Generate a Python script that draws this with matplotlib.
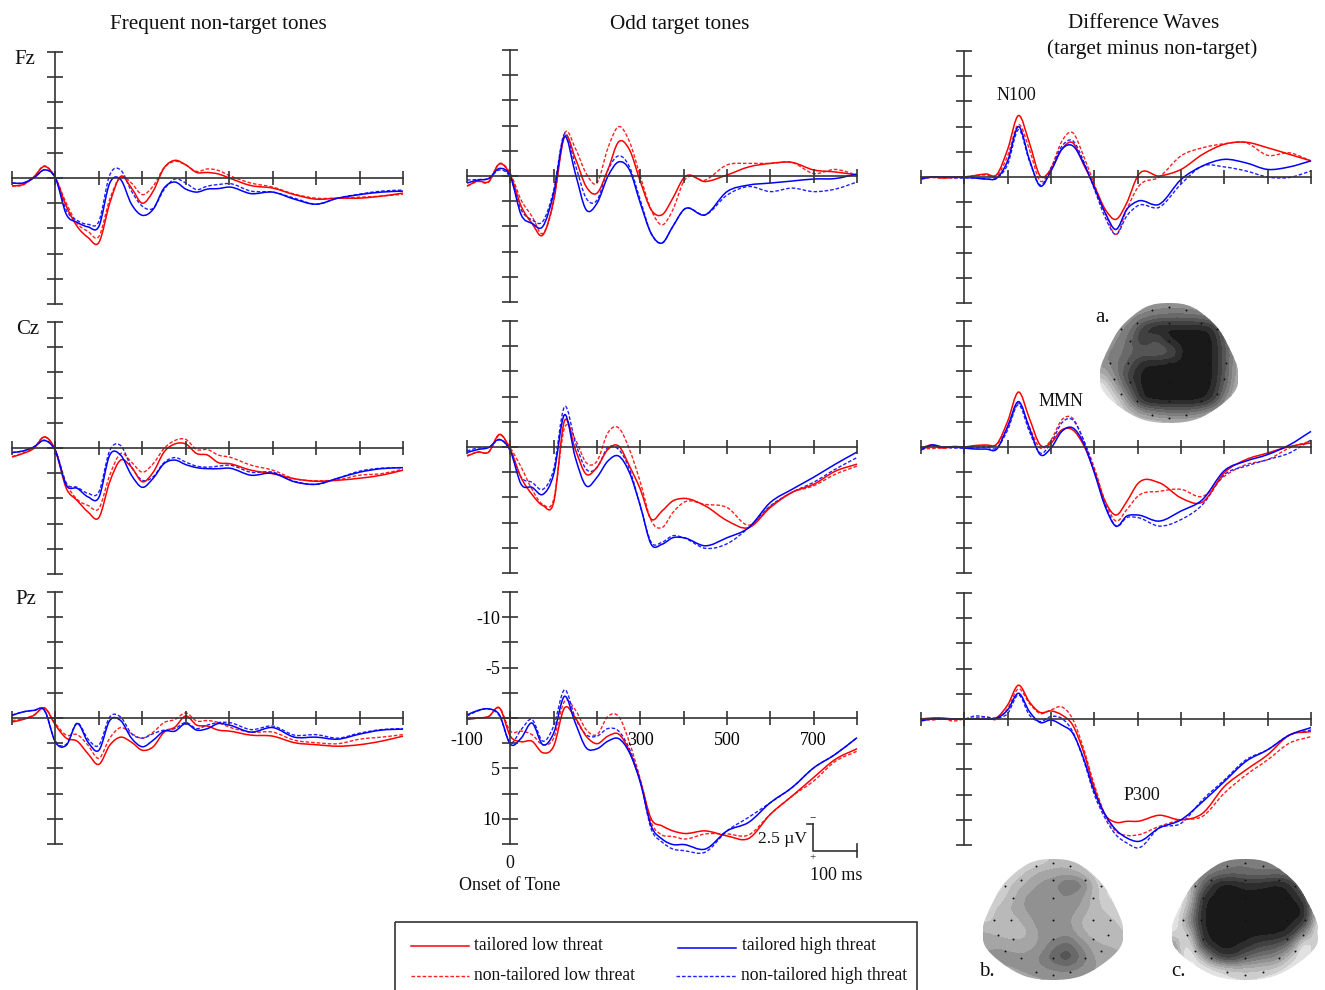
import numpy as np
import matplotlib
matplotlib.use("Agg")
import matplotlib.pyplot as plt
from matplotlib.path import Path
from matplotlib.patches import PathPatch, Rectangle

W, H = 1325, 990
plt.rcParams['font.family'] = ['Liberation Serif', 'DejaVu Serif']

times = [-100, -75, -50, -25, 0, 25, 50, 75, 100, 125, 150, 175, 200, 225, 250, 275, 300, 325, 350,
         375, 400, 450, 500, 550, 600, 650, 700, 750, 800]

# amplitudes in microvolts, negative is up
fz_freq_tl = [.8, .65, -.1, -1.15, 0, 2.8, 4.8, 5.9, 6.4, 2.5, -.15, 1, 2.5, 1.3, -1, -1.75, -1.3, -.55, -.55, -.4, 0, .75, 1, 1.65, 2.1, 2, 2, 1.8, 1.5]
fz_freq_nl = [.8, .7, -.1, -1.2, 0, 2.5, 4.5, 5.3, 5.8, 2.1, -.1, .5, 1.65, .8, -1, -1.65, -1.3, -.65, -.9, -.75, -.25, .5, .9, 1.6, 2, 2, 1.9, 1.8, 1.6]
fz_freq_th = [.5, .5, 0, -.8, 0, 3.6, 4.4, 4.85, 4.8, .5, .15, 2.6, 3.7, 3.1, 1, .4, 1.1, 1.4, 1.1, 1.05, .9, 1.55, 1.4, 2.1, 2.6, 2, 1.65, 1.4, 1.3]
fz_freq_nh = [.5, .5, 0, -.8, 0, 3.2, 4.2, 4.6, 4.3, -.3, -.8, 1.3, 2.8, 3, 1.15, .1, .5, 1.15, .8, .65, .55, 1.3, 1.4, 2, 2.6, 2, 1.6, 1.3, 1.2]

fz_odd_tl = [1, .5, .55, -1.2, -.1, 3, 4.7, 5.85, 2.4, -3.9, -1.75, 1.05, 1.7, -.6, -3.4, -2.6, .55, 3.35, 3.85, 2.2, .2, .55, -.1, -.9, -1.25, -1.35, -.6, -.4, -.1]
fz_odd_nl = [1, .55, .6, -1.25, -.25, 2.4, 4, 5.7, 2.55, -4.2, -2.75, -.25, .7, -2.75, -4.9, -3.4, .05, 3.35, 4.85, 3.35, .55, .4, -1.1, -1.25, -1.25, -1.35, -.25, -.65, -.1]
fz_odd_th = [.7, .4, .25, -.75, .05, 3.85, 4.7, 5, 1.7, -3.9, -.25, 3.35, 2.7, .05, -1.4, -.6, 2.7, 5.7, 6.65, 5, 3.35, 3.85, 1.55, .9, .7, .5, .3, .25, -.2]
fz_odd_nh = [.4, .35, .25, -.6, .15, 3.35, 4.35, 4.5, 1.4, -4.2, -1.1, 2.2, 2.4, -.6, -2, -.9, 2.4, 5.7, 6.65, 5, 3.35, 3.85, 1.9, 1.05, 1.55, 1.2, 1.55, 1.3, .6]

fz_diff_tl = [.1, 0, .1, .05, 0, -.15, -.3, -.25, -2.75, -6.1, -3.4, -.1, -.75, -2.75, -3.4, -1.25, .9, 3.2, 4.2, 2.55, -.1, -.1, -.75, -2.25, -3.25, -3.45, -2.9, -2.25, -1.6]
fz_diff_nl = [.1, .05, .1, 0, 0, -.15, -.2, -.1, -2.1, -5.2, -2.75, .4, -.9, -3.55, -4.4, -2.1, .75, 3.55, 5.7, 3.2, 1.05, 0, -2.1, -2.9, -3.3, -3.4, -2.15, -2.4, -1.6]
fz_diff_th = [.2, 0, 0, 0, .05, .1, .2, .1, -1.6, -5, -1.75, .9, -.6, -2.75, -3.1, -1.4, 1.05, 3.55, 5.2, 3.2, 2.4, 2.7, .25, -1.1, -1.75, -1.4, -.75, -1, -1.6]
fz_diff_nh = [.2, 0, 0, .1, .1, .1, .2, .1, -1.25, -4.7, -1.6, .8, -.9, -3.05, -3.6, -1.6, 1.2, 4, 5.7, 3.85, 2.85, 3, .7, -1.1, -1, -.6, 0, .05, -.6]

cz_freq_tl = [.9, .55, .05, -1.1, .25, 4, 5.2, 6.35, 6.9, 3.35, 1.2, 1.9, 3.35, 2.4, .4, -.4, -.4, .55, .7, 1.45, 1.55, 2.2, 2.55, 3.05, 3.3, 3.2, 3, 2.7, 2.2]
cz_freq_nl = [.85, .5, 0, -1.1, .25, 3.5, 5.1, 5.7, 6, 2.7, .55, 1.4, 2.4, 1.55, .05, -.75, -.85, .15, .15, .7, .9, 1.7, 2.2, 3.05, 3.25, 3.15, 2.7, 2.55, 2.1]
cz_freq_th = [.45, .3, -.1, -.75, .3, 3.7, 4, 4.85, 4.9, .7, .7, 2.7, 3.9, 3, 1.55, 1.2, 1.65, 1.95, 2.05, 2.05, 2, 2.7, 2.5, 3.35, 3.6, 3, 2.4, 2.05, 1.95]
cz_freq_nh = [.45, .3, -.1, -.75, .3, 3.5, 3.9, 4.5, 4.35, .25, -.25, 1.9, 3.2, 2.85, 1.45, .95, 1.4, 1.8, 1.9, 1.8, 1.7, 2.4, 2.4, 3.3, 3.6, 3, 2.3, 2, 1.95]

cz_odd_tl = [.9, .5, .5, -1.25, .25, 3.05, 4.7, 5.8, 5.5, -2.6, .25, 2.7, 2, .25, -.1, 1.9, 4.2, 7.15, 6.35, 5.35, 5.1, 5.85, 7.3, 8, 6, 4.5, 3.7, 2.4, 1.7]
cz_odd_nl = [.85, .5, .5, -1.2, .1, 2, 4.2, 5.7, 5.2, -1.9, -.75, 1.55, 1.4, -1.4, -1.9, .25, 3.5, 7.3, 8, 6.5, 5.5, 5.7, 6, 7.75, 5.9, 4.5, 3.85, 2.7, 1.9]
cz_odd_th = [.55, .25, .05, -.75, .4, 3.7, 4, 4.7, 2.7, -3.2, 1.05, 3.85, 3, 1.4, .9, 2.55, 5.85, 9.65, 9.65, 9, 9, 9.8, 9, 8, 5.5, 4.2, 3, 1.7, .5]
cz_odd_nh = [.4, .1, .05, -.7, .3, 3, 3.5, 4.2, 2.2, -4, -.45, 2.2, 2.05, .05, .25, 2.2, 5.85, 9.45, 9.45, 8.8, 9, 10.05, 9.6, 8, 5.85, 4.5, 3.5, 2.2, 1.05]

cz_diff_tl = [.1, -.2, .1, -.05, 0, -.15, -.2, -.3, -2.55, -5.45, -2.85, -.2, -.4, -1.7, -1.7, -.2, 2.4, 5.4, 6.75, 5.4, 3.65, 3.55, 5.05, 5.45, 2.55, 1.25, .6, -.05, -.4]
cz_diff_nl = [.2, .15, .1, .05, 0, -.1, -.1, -.25, -1.9, -4.35, -2, .1, -.7, -2.7, -2.85, -.7, 2.05, 5.4, 7.35, 6.2, 4.9, 4.4, 4.2, 4.9, 2.9, 1.75, 1.25, .1, -.6]
cz_diff_th = [.3, -.2, 0, 0, .1, .2, .2, .2, -2.05, -4.5, -1.9, .75, .1, -1.55, -1.9, -.4, 2.55, 5.9, 7.85, 6.85, 6.75, 7.35, 6.35, 5.2, 2.35, 1.4, .75, -.2, -1.55]
cz_diff_nh = [.1, -.1, 0, .1, .1, .1, 0, .1, -1.7, -4.2, -1.55, .6, -.4, -2.4, -2.7, -.7, 2.4, 5.7, 7.85, 7, 7, 7.85, 7.2, 5.7, 2.75, 1.9, 1.25, .6, -.7]

pz_freq_tl = [.4, .15, -.25, -1, .7, 2, 2.3, 3.55, 4.6, 2.7, 1.9, 2.4, 3.2, 2.85, 1.4, .9, -.2, .7, .8, 1.2, 1.3, 1.7, 1.8, 2.45, 2.65, 2.8, 2.65, 2.3, 1.8]
pz_freq_nl = [.25, .1, -.3, -.95, .55, 1.7, 1.65, 2.7, 4, 2, .95, 1.55, 2, 1.4, .45, .15, -.5, .3, .25, .45, .9, 1.4, 1.4, 2.2, 2.45, 2.55, 2.1, 1.9, 1.65]
pz_freq_th = [-.25, -.6, -.75, -.75, 2.4, 2.7, .55, 2.4, 3.2, .25, .25, 2, 2.85, 2.2, 1.3, 1.3, .55, 1.2, 1.05, .55, .7, 1.4, .95, 1.9, 1.9, 2.1, 1.6, 1.2, 1.1]
pz_freq_nh = [-.3, -.6, -.75, -.7, 2.3, 2.6, .5, 2.1, 2.7, -.1, -.1, 1.55, 2, 1.55, 1.2, 1.05, .45, 1.05, .7, .45, .45, 1.15, .8, 1.7, 1.65, 2, 1.5, 1.15, 1.05]

pz_odd_tl = [.15, 0, -.15, -1, 1.8, 2.35, 2.3, 3.45, 2.8, -1, 0, 1.8, 2.55, 1.8, 1.6, 3.3, 6.25, 10, 10.7, 11.2, 11.45, 11.2, 11.7, 11.95, 9.55, 7.75, 5.9, 4.1, 3.05]
pz_odd_nl = [.15, 0, -.15, -1, 1.3, 1.3, 1.65, 2.65, 2, -1.65, -.8, 1.15, 1.65, -.15, -.15, 2.45, 6.1, 10.35, 11.6, 11.75, 12, 11.5, 11.5, 11.6, 9.55, 7.75, 6.25, 4.3, 3.3]
pz_odd_th = [-.3, -.75, -.9, -.3, 2.6, 2, .5, 2.65, 1.5, -2.15, .5, 2.95, 3.05, 2.3, 2.05, 3.45, 6.4, 10.7, 12, 12.55, 12.55, 13, 11.2, 10.35, 8.4, 6.9, 4.95, 3.6, 1.95]
pz_odd_nh = [-.2, -.7, -.9, -.2, 2.45, 1.15, .15, 2.3, .8, -2.8, 0, 1.65, 1.8, 1.05, 1.3, 3.1, 6.25, 11, 12.3, 13, 13.15, 13.3, 11.2, 9.85, 8.4, 6.9, 4.95, 3.6, 1.95]

pz_diff_tl = [0, -.1, -.1, 0, 0, 0, 0, -.15, -1.4, -3.35, -1.7, -.65, -.8, -.4, .6, 3.25, 6.85, 9.5, 10.25, 10.15, 10.15, 9.55, 10, 9.35, 6.7, 5.05, 3.55, 1.6, 1.25]
pz_diff_nl = [0, .1, 0, .2, 0, -.1, -.2, .05, -1.05, -3, -1.55, -.55, -.9, -1.2, 0, 2.9, 6.55, 9.5, 11.15, 11.55, 11.5, 10.65, 10, 9.65, 7.35, 5.55, 4.05, 2.4, 1.75]
pz_diff_th = [.2, 0, 0, 0, 0, 0, 0, -.1, -.9, -2.55, -.75, .35, .1, .6, 1.4, 3.9, 7.2, 9.5, 11, 11.8, 12.15, 10.8, 10, 8.2, 6.2, 4.2, 3.05, 1.6, .85]
pz_diff_nh = [.1, -.05, -.05, 0, 0, -.3, -.2, -.1, -.55, -2.4, -.4, .25, -.25, -.05, 1.25, 4.05, 7.5, 9.85, 11.5, 12.3, 12.8, 10.8, 10.35, 8, 6.05, 4.05, 3.05, 1.6, 1.1]

x_ticks = [-100, 0, 100, 200, 300, 400, 500, 600, 700, 800]
y_ticks = [-12.5, -10, -7.5, -5, -2.5, 0, 2.5, 5, 7.5, 10, 12.5]
x_labels = ['-100', '', '', '', '300', '', '500', '', '700', '']
y_labels = ['', '-10', '', '-5', '', '', '', '5', '', '10', '']

# gray level of the scalp maps, rows front to back, columns left to right
map_a = [[190, 180, 170, 160, 150, 150, 150, 160, 170, 180, 190],
         [170, 160, 150, 125, 110, 105, 105, 110, 125, 160, 170],
         [160, 150, 125, 60, 30, 30, 30, 30, 40, 125, 170],
         [150, 140, 105, 50, 80, 30, 25, 25, 25, 100, 170],
         [140, 130, 100, 90, 95, 85, 25, 25, 25, 90, 175],
         [150, 120, 85, 35, 30, 25, 25, 25, 25, 90, 180],
         [190, 135, 60, 25, 25, 25, 25, 25, 25, 95, 180],
         [250, 170, 85, 25, 25, 25, 25, 25, 30, 110, 190],
         [255, 225, 130, 35, 25, 25, 25, 25, 50, 140, 210],
         [255, 240, 190, 140, 120, 110, 110, 120, 150, 190, 230],
         [255, 240, 220, 210, 200, 190, 190, 200, 210, 220, 230]]
map_b = [[240, 240, 235, 225, 210, 190, 190, 210, 235, 240, 240],
         [240, 240, 220, 190, 170, 165, 165, 180, 215, 240, 240],
         [240, 230, 190, 170, 150, 140, 105, 125, 190, 230, 240],
         [230, 210, 180, 150, 140, 140, 135, 150, 190, 220, 240],
         [210, 190, 170, 150, 140, 140, 140, 160, 190, 200, 220],
         [200, 190, 185, 165, 140, 140, 150, 180, 190, 190, 200],
         [170, 180, 190, 180, 150, 150, 140, 170, 190, 190, 195],
         [160, 155, 160, 165, 150, 115, 100, 140, 170, 175, 180],
         [150, 150, 150, 150, 130, 95, 75, 120, 160, 170, 170],
         [160, 160, 155, 150, 140, 130, 125, 140, 155, 165, 170],
         [180, 175, 170, 165, 160, 160, 160, 165, 170, 175, 180]]
map_c = [[170, 165, 150, 140, 125, 120, 125, 130, 140, 160, 180],
         [190, 170, 140, 115, 105, 110, 115, 110, 115, 160, 190],
         [255, 200, 100, 30, 25, 45, 40, 28, 45, 130, 200],
         [255, 210, 45, 25, 25, 25, 25, 25, 25, 70, 210],
         [255, 180, 30, 25, 25, 25, 25, 25, 25, 30, 225],
         [250, 150, 30, 25, 25, 25, 25, 25, 25, 45, 235],
         [215, 200, 35, 25, 25, 25, 25, 25, 40, 130, 250],
         [130, 250, 60, 25, 25, 40, 65, 75, 110, 250, 170],
         [110, 255, 170, 65, 50, 95, 120, 130, 190, 255, 130],
         [160, 255, 240, 210, 190, 185, 190, 200, 235, 240, 160],
         [200, 250, 250, 240, 225, 220, 225, 240, 250, 250, 200]]

head_u = [0, .34, .68, .87, 1, .97, .73, .39, 0, -.39, -.73, -.97, -1, -.87, -.68, -.34]
head_v = [0, .035, .19, .37, .56, .72, .86, .97, 1, .97, .86, .72, .56, .37, .19, .035]
dots_u = [-.24, 0, .24, -.69, -.46, 0, .46, .69, -.57, 0, .57, -.85, -.6, 0, .57, .82,
          -.79, -.57, 0, .57, .79, -.69, -.46, 0, .46, .69, -.24, 0, .24]
dots_v = [.055, .03, .055, .22, .17, .17, .17, .22, .32, .32, .32, .5, .5, .5, .5, .5,
          .63, .66, .66, .66, .63, .76, .82, .82, .82, .76, .93, .96, .93]


def smooth_path(xs, ys):
    # bezier through the read points, the waves are curves in the original
    xs = np.asarray(xs, dtype=float)
    ys = np.asarray(ys, dtype=float)
    slopes = np.gradient(ys, xs)
    verts = [(xs[0], ys[0])]
    codes = [Path.MOVETO]
    for i in range(len(xs) - 1):
        h = xs[i + 1] - xs[i]
        verts.append((xs[i] + h / 3, ys[i] + slopes[i] * h / 3))
        verts.append((xs[i + 1] - h / 3, ys[i + 1] - slopes[i + 1] * h / 3))
        verts.append((xs[i + 1], ys[i + 1]))
        codes.extend([Path.CURVE4, Path.CURVE4, Path.CURVE4])
    return Path(verts, codes)


def soften(values, k=10):
    # the coarse gray table gets round contours instead of diamonds
    arr = np.repeat(np.repeat(np.array(values, dtype=float), k, axis=0), k, axis=1)
    kernel = np.ones(k) / k
    for _ in range(2):
        for axis in [0, 1]:
            padded = np.pad(arr, [(k, k) if a == axis else (0, 0) for a in [0, 1]], mode='edge')
            arr = np.apply_along_axis(lambda r: np.convolve(r, kernel, mode='same'), axis, padded)
            arr = arr[k:-k, :] if axis == 0 else arr[:, k:-k]
    return arr


def make_axes(fig, x0, x1, top, bottom):
    ax = fig.add_axes([x0 / W, 1 - bottom / H, (x1 - x0) / W, (bottom - top) / H])
    ax.set_xlim(-100, 800)
    ax.set_ylim(12.5, -12.5)
    ax.patch.set_visible(False)
    for side in ['top', 'right']:
        ax.spines[side].set_visible(False)
    ax.spines['left'].set_position(('data', 0))
    ax.spines['bottom'].set_position(('data', 0))
    for side in ['left', 'bottom']:
        ax.spines[side].set_linewidth(1.2)
        ax.spines[side].set_color('#333333')
    ax.set_xticks(x_ticks)
    ax.set_yticks(y_ticks)
    ax.set_xticklabels([])
    ax.set_yticklabels([])
    ax.tick_params(axis='x', direction='inout', length=10, width=1.2, color='#333333')
    ax.tick_params(axis='y', direction='inout', length=11, width=1.2, color='#333333')
    return ax


def draw_waves(ax, tl, nl, th, nh):
    styles = [(nl, '#ff2020', (0, (2.6, 1.4)), 1), (nh, '#2020ff', (0, (2.6, 1.4)), 1),
              (tl, '#ff0000', '-', 1.1), (th, '#0000ff', '-', 1.1)]
    for vals, col, ls, lw in styles:
        ax.add_patch(PathPatch(smooth_path(times, vals), fc='none', ec=col, ls=ls, lw=lw, clip_on=False))


def draw_map(fig, values, x0, x1, top, bottom):
    ax = fig.add_axes([x0 / W, 1 - bottom / H, (x1 - x0) / W, (bottom - top) / H])
    ax.set_xlim(-1, 1)
    ax.set_ylim(1, 0)
    ax.axis('off')
    field = soften(values)
    grid_u = np.linspace(-1.1, 1.1, field.shape[1])
    grid_v = np.linspace(-.05, 1.05, field.shape[0])
    cs = ax.contourf(grid_u, grid_v, field, levels=np.arange(15, 270, 20), cmap='gray', vmin=0, vmax=255)
    verts = [(head_u[0], head_v[0])]
    codes = [Path.MOVETO]
    n = len(head_u)
    for i in range(n):
        p0 = np.array([head_u[i - 1], head_v[i - 1]])
        p1 = np.array([head_u[i], head_v[i]])
        p2 = np.array([head_u[(i + 1) % n], head_v[(i + 1) % n]])
        p3 = np.array([head_u[(i + 2) % n], head_v[(i + 2) % n]])
        verts += [tuple(p1 + (p2 - p0) / 6), tuple(p2 - (p3 - p1) / 6), tuple(p2)]
        codes += [Path.CURVE4] * 3
    clip = PathPatch(Path(verts, codes), transform=ax.transData, fc='none', ec='none')
    ax.add_patch(clip)
    cs.set_clip_path(clip)
    ax.scatter(dots_u, dots_v, s=2, color='#111111', linewidths=0, zorder=3)


def main():
    fig = plt.figure(figsize=(W / 100, H / 100), dpi=100)

    # pixel frames of the nine panels: left, right, top, bottom
    frames = [
        (12, 403, 52, 304, fz_freq_tl, fz_freq_nl, fz_freq_th, fz_freq_nh),
        (467, 857, 50, 302, fz_odd_tl, fz_odd_nl, fz_odd_th, fz_odd_nh),
        (921, 1311, 51, 303, fz_diff_tl, fz_diff_nl, fz_diff_th, fz_diff_nh),
        (12, 403, 322, 574, cz_freq_tl, cz_freq_nl, cz_freq_th, cz_freq_nh),
        (467, 857, 321, 573, cz_odd_tl, cz_odd_nl, cz_odd_th, cz_odd_nh),
        (921, 1311, 321, 573, cz_diff_tl, cz_diff_nl, cz_diff_th, cz_diff_nh),
        (12, 403, 592, 844, pz_freq_tl, pz_freq_nl, pz_freq_th, pz_freq_nh),
        (467, 857, 592, 844, pz_odd_tl, pz_odd_nl, pz_odd_th, pz_odd_nh),
        (921, 1311, 593, 845, pz_diff_tl, pz_diff_nl, pz_diff_th, pz_diff_nh),
    ]
    axes = []
    for x0, x1, top, bottom, tl, nl, th, nh in frames:
        ax = make_axes(fig, x0, x1, top, bottom)
        draw_waves(ax, tl, nl, th, nh)
        axes.append(ax)

    # only the middle bottom panel has numbers
    ax = axes[7]
    ax.set_xticklabels(x_labels, fontsize=13)
    ax.set_yticklabels(y_labels, fontsize=13)
    ax.tick_params(axis='x', pad=5)
    ax.tick_params(axis='y', pad=2)
    # scale bar
    ax.plot([698, 698, 800], [10.5, 13.15, 13.15], color='#333333', lw=1.2, clip_on=False)
    ax.plot([684, 698], [10.5, 10.5], color='#333333', lw=1.2, clip_on=False)
    ax.plot([800, 800], [12.5, 13.8], color='#333333', lw=1.2, clip_on=False)

    draw_map(fig, map_a, 1100, 1238, 303, 423)
    draw_map(fig, map_b, 983, 1123, 859, 980)
    draw_map(fig, map_c, 1172, 1318, 859, 980)

    # titles, labels and legend sit on a full figure layer in pixels
    ov = fig.add_axes([0, 0, 1, 1])
    ov.set_xlim(0, W)
    ov.set_ylim(H, 0)
    ov.axis('off')
    ov.patch.set_visible(False)

    def label(x, y, s, size=13, ha='center'):
        ov.text(x, y + 2, s, fontsize=size, ha=ha, va='center', color='#111111')

    label(218, 23, 'Frequent non-target tones', 15.2)
    label(680, 23, 'Odd target tones', 15.2)
    label(1144, 21, 'Difference Waves', 15.2)
    label(1152, 47, '(target minus non-target)', 15.2)
    label(25, 58, 'Fz', 15)
    label(28, 328, 'Cz', 15)
    label(26, 598, 'Pz', 15)
    label(1016, 94, 'N100')
    label(1061, 400, 'MMN')
    label(1142, 794, 'P300')
    label(1103, 316, 'a.', 15)
    label(987, 970, 'b.', 15)
    label(1178, 970, 'c.', 15)
    label(510, 861, '0')
    label(510, 884, 'Onset of Tone')
    label(783, 837, '2.5 µV', 12.6)
    label(836, 874, '100 ms')
    label(813, 817, '\u2212', 8)
    label(813, 856, '+', 8)

    ov.add_patch(Rectangle((395, 922), 522, 80, fc='none', ec='#333333', lw=1.2, clip_on=True))
    ov.plot([411, 469], [946, 946], color='#ff0000', lw=1.1)
    ov.plot([678, 736], [948, 948], color='#0000ff', lw=1.1)
    ov.plot([411, 469], [976, 976], color='#ff2020', lw=1, dashes=(2.6, 1.4))
    ov.plot([676, 736], [976, 976], color='#2020ff', lw=1, dashes=(2.6, 1.4))
    label(474, 943, 'tailored low threat', 12.7, ha='left')
    label(742, 944, 'tailored high threat', 12.7, ha='left')
    label(474, 974, 'non-tailored low threat', 12.7, ha='left')
    label(741, 974, 'non-tailored high threat', 12.7, ha='left')

    fig.savefig('out.png', dpi=100, facecolor='white')


if __name__ == "__main__":
    main()
